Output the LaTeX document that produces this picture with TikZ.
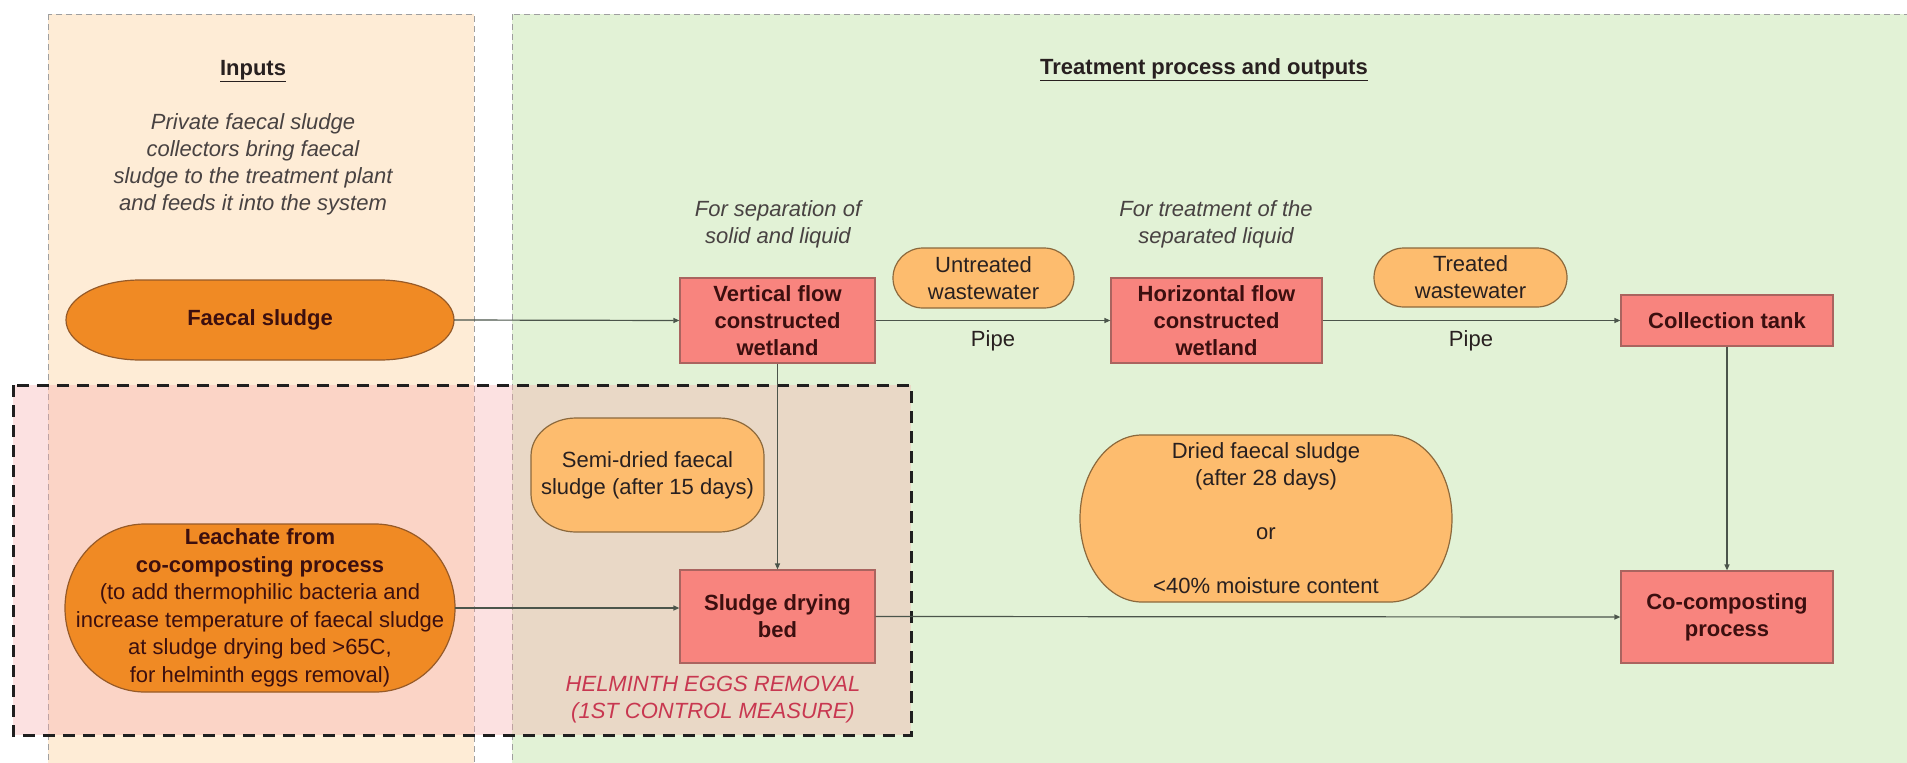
\documentclass[tikz,border=0pt]{standalone}
\usepackage{fontspec}
\setmainfont{Liberation Sans}
\usetikzlibrary{arrows.meta}
\definecolor{peach}{RGB}{254,236,214}
\definecolor{mint}{RGB}{226,242,214}
\definecolor{dorange}{RGB}{240,138,36}
\definecolor{dorangeb}{RGB}{150,90,40}
\definecolor{lorange}{RGB}{253,188,110}
\definecolor{lorangeb}{RGB}{140,105,60}
\definecolor{boxred}{RGB}{248,132,126}
\definecolor{boxredb}{RGB}{170,100,95}
\definecolor{txt}{RGB}{40,32,32}
\definecolor{boxtxt}{RGB}{60,15,15}
\definecolor{helm}{RGB}{200,55,80}
\definecolor{edgec}{RGB}{75,85,75}
\definecolor{overlayc}{RGB}{248,170,170}
% rounded outline with elliptical corners: style, cx, cy, w, h, rx, ry
\newcommand{\myround}[7]{%
  \draw[#1] ({#2-#4/2+#6},{#3-#5/2}) -- ({#2+#4/2-#6},{#3-#5/2})
    arc[start angle=90,end angle=0,x radius=#6pt,y radius=#7pt]
    -- ({#2+#4/2},{#3+#5/2-#7})
    arc[start angle=0,end angle=-90,x radius=#6pt,y radius=#7pt]
    -- ({#2-#4/2+#6},{#3+#5/2})
    arc[start angle=270,end angle=180,x radius=#6pt,y radius=#7pt]
    -- ({#2-#4/2},{#3-#5/2+#7})
    arc[start angle=180,end angle=90,x radius=#6pt,y radius=#7pt]
    -- cycle;}
\begin{document}
\begin{tikzpicture}[x=1pt,y=-1pt,
  every node/.style={font=\fontsize{22}{27}\selectfont, text=txt, inner sep=0pt, align=center},
  panelA/.style={fill=peach, draw=gray!75, dash pattern=on 6pt off 4pt, line width=1pt},
  panelB/.style={fill=mint, draw=gray!75, dash pattern=on 6pt off 4pt, line width=1pt},
  hzone/.style={fill=overlayc, fill opacity=0.35, draw=black!88, line width=3pt, dash pattern=on 12pt off 8pt},
  darkfill/.style={fill=dorange, draw=dorangeb, line width=1.2pt},
  lightfill/.style={fill=lorange, draw=lorangeb, line width=1.2pt},
  boldtxt/.style={font=\fontsize{22}{27}\selectfont\bfseries, text=boxtxt},
  procbox/.style={rectangle, fill=boxred, draw=boxredb, line width=1.2pt, font=\fontsize{22}{27}\selectfont\bfseries, text=boxtxt},
  caption/.style={font=\fontsize{22}{27}\selectfont\itshape, text=txt!85},
  heading/.style={font=\fontsize{22}{27}\selectfont\bfseries},
  flow/.style={draw=edgec, line width=1.2pt, -{Triangle[length=6pt,width=5pt]}}
]
\useasboundingbox (0,0) rectangle (1907,763);
\clip (0,0) rectangle (1907,763);
\fill[white] (0,0) rectangle (1907,763);

% panels
\draw[panelA] (48,14) rectangle (474,790);
\draw[panelB] (512,14) rectangle (1930,790);

% helminth zone
\draw[hzone] (13,385) rectangle (911,735);

% headings and captions
\node[heading] (hin) at (253,71) {\underline{Inputs}};
\node[caption] (cin) at (253,164) {Private faecal sludge\\collectors bring faecal\\sludge to the treatment plant\\and feeds it into the system};
\node[heading] (htr) at (1204,70) {\underline{Treatment process and outputs}};
\node[caption] (cvf) at (778,224) {For separation of\\solid and liquid};
\node[caption] (chf) at (1216,224) {For treatment of the\\separated liquid};

% rounded outlines
\myround{darkfill}{260}{320}{388}{80}{74}{40}
\myround{darkfill}{260}{608}{390}{168}{80}{84}
\myround{lightfill}{983.5}{278}{181}{60}{30}{30}
\myround{lightfill}{1470.5}{277.5}{193}{59}{30}{29.5}
\myround{lightfill}{647.5}{475}{233}{114}{45}{38}
\myround{lightfill}{1266}{518.5}{372}{167}{62}{83.5}

% inputs
\node[boldtxt, minimum width=388pt, minimum height=80pt] (fs) at (260,320) {Faecal sludge};
\node[text=boxtxt, minimum width=390pt, minimum height=168pt, font=\fontsize{22}{27.5}\selectfont] (leach) at (260,608) {\textbf{Leachate from}\\\textbf{co-composting process}\\(to add thermophilic bacteria and\\increase temperature of faecal sludge\\at sludge drying bed >65C,\\for helminth eggs removal)};

% process boxes
\node[procbox, minimum width=195pt, minimum height=85pt] (vf) at (777.5,320.5) {Vertical flow\\constructed\\wetland};
\node[procbox, minimum width=211pt, minimum height=85pt] (hf) at (1216.5,320.5) {Horizontal flow\\constructed\\wetland};
\node[procbox, minimum width=212pt, minimum height=51pt] (ct) at (1727,320.5) {Collection tank};
\node[procbox, minimum width=195pt, minimum height=93pt] (sdb) at (777.5,616.5) {Sludge drying\\bed};
\node[procbox, minimum width=212pt, minimum height=92pt] (cc) at (1727,617) {Co-composting\\process};

% pill texts
\node[minimum width=181pt, minimum height=60pt] (uw) at (983.5,278) {Untreated\\wastewater};
\node[minimum width=193pt, minimum height=59pt] (tw) at (1470.5,277.5) {Treated\\wastewater};
\node[minimum width=233pt, minimum height=114pt] (sd) at (647.5,475) {Semi-dried faecal\\sludge (after 15 days)};
\node[minimum width=372pt, minimum height=167pt] (df) at (1266,518.5) {Dried faecal sludge\\(after 28 days)\\\\or\\\\<40\% moisture content};

% edge labels
\node (p1) at (993,341) {Pipe};
\node (p2) at (1471,341) {Pipe};
\node[font=\fontsize{22}{27}\selectfont\itshape, text=helm] (hm) at (713,700) {HELMINTH EGGS REMOVAL\\(1ST CONTROL MEASURE)};

% connectors
\draw[flow] (fs.east) -- (vf.west);
\draw[flow] (vf.east) -- (hf.west);
\draw[flow] (hf.east) -- (ct.west);
\draw[flow] (ct.south) -- (cc.north);
\draw[flow] (vf.south) -- (sdb.north);
\draw[flow] (leach.east) -- (leach.east -| sdb.west);
\draw[flow] (sdb.east) -- (cc.west);
\end{tikzpicture}
\end{document}
